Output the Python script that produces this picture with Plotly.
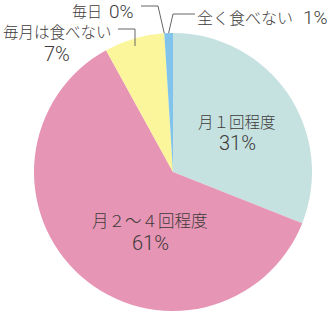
import math
import plotly.graph_objects as go

labels = ["月１回程度", "月２～４回程度", "毎月は食べない", "毎日", "全く食べない"]
values = [31, 61, 7, 0, 1]
colors = ["#C5E1E0", "#E695B5", "#FBF59B", "#FFFFFF", "#80C3EB"]

W, H = 331, 312
CX, CY, R = 173, 172, 139

def px(x):
    return x / W

def py(y):
    return 1 - y / H

fig = go.Figure(go.Pie(
    labels=labels, values=values, sort=False, direction="clockwise", rotation=0,
    marker=dict(colors=colors, line=dict(width=0)),
    textinfo="none", hoverinfo="skip", showlegend=False,
    domain=dict(x=[px(CX - R), px(CX + R)], y=[py(CY + R), py(CY - R)]),
))

def edge_point(frac):
    a = 2 * math.pi * frac
    return CX + R * math.sin(a), CY - R * math.cos(a)

total = sum(values)
cum = []
s = 0
for v in values:
    cum.append(s)
    s += v

TXT = "#3E3A39"
JF = "Noto Sans CJK JP"
NF = "Roboto"
ann = []

def add(text, x, y, size, fam=JF):
    ann.append(dict(text=text, x=px(x), y=py(y), xref="paper", yref="paper",
                    showarrow=False, xanchor="center", yanchor="middle",
                    borderpad=0,
                    font=dict(family=fam, size=size, color=TXT, weight=300)))

P = 20
add(labels[0], 237, 121, 15.5)
add(f"{values[0]}%", 237, 143.5, P, NF)
add(labels[1], 150, 220, 16.5)
add(f"{values[1]}%", 150, 242.5, P, NF)
add(labels[2], 57, 31, 15.5)
add(f"{values[2]}%", 57, 53.5, P, NF)
add(labels[3], 87, 11, 15)
add(f"{values[3]}%", 121.5, 11.5, 19, NF)
add(labels[4], 245, 17, 16)
add(f"{values[4]}%", 315, 17.5, 19, NF)

# leader lines
x0, y0 = edge_point(cum[3] / total)
x1, y1 = edge_point((cum[4] + values[4] / 2) / total)

def path(pts):
    return "M " + " L ".join(f"{px(a)},{py(b)}" for a, b in pts)

LC = dict(color="#666666", width=1)
shapes = [
    dict(type="path", xref="paper", yref="paper",
         path=path([(141, 6), (158, 6), (x0, y0)]), line=LC),
    dict(type="path", xref="paper", yref="paper",
         path=path([(195, 14), (173, 14), (x1, y1)]), line=LC),
    dict(type="path", xref="paper", yref="paper",
         path=path([(118, 29), (135, 29), (135, 46)]), line=LC),
]

fig.update_layout(width=W, height=H, margin=dict(l=0, r=0, t=0, b=0),
                  paper_bgcolor="white", plot_bgcolor="white",
                  annotations=ann, shapes=shapes)
fig.write_html("out.html")
